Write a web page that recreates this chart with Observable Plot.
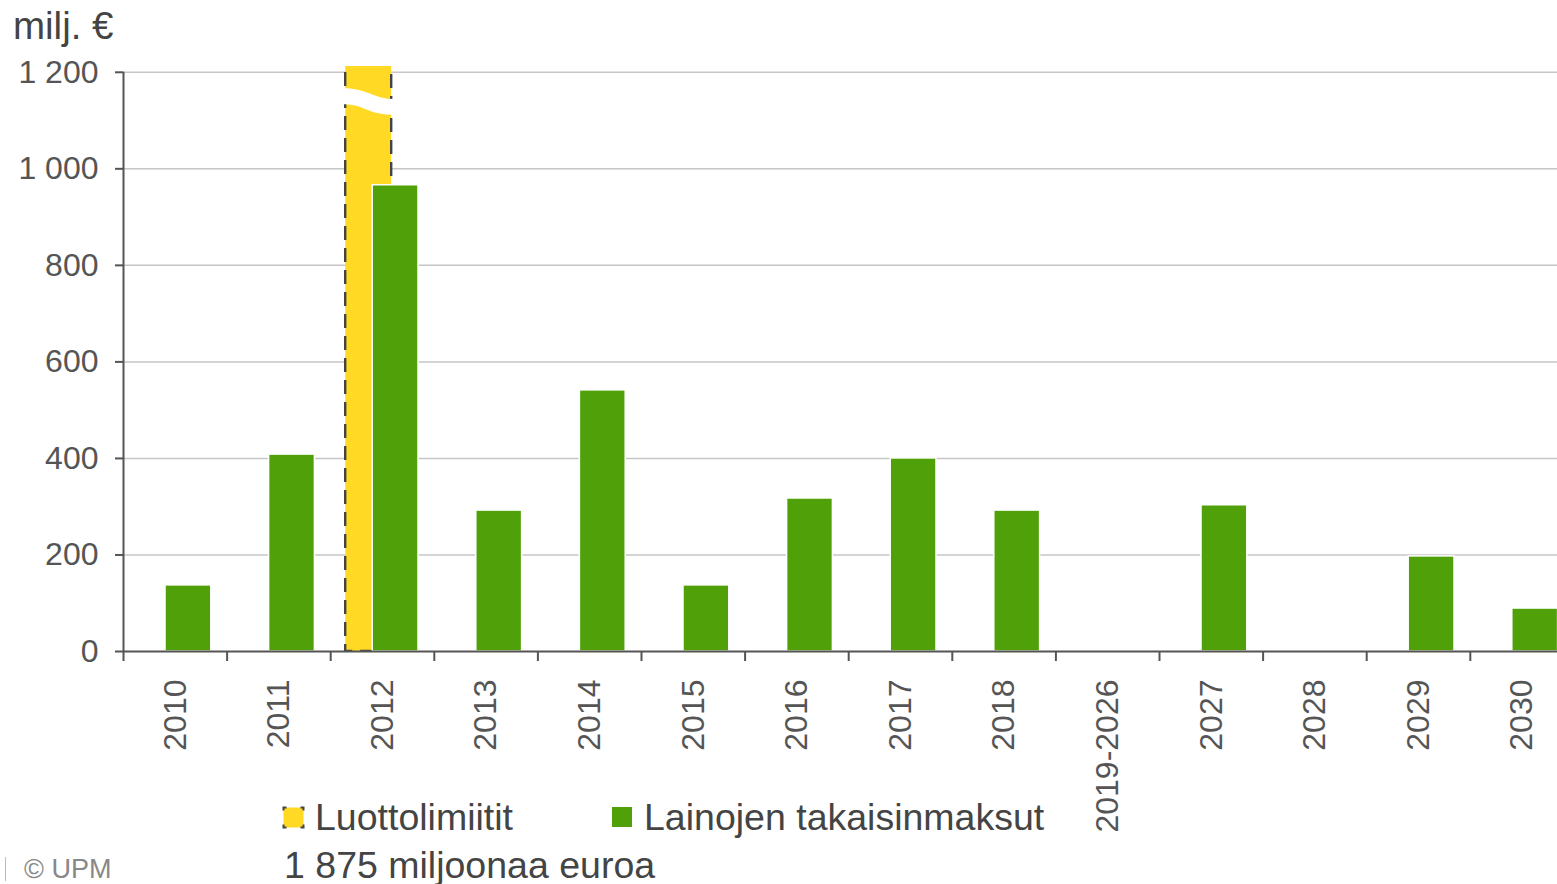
<!DOCTYPE html>
<html>
<head>
<meta charset="utf-8">
<script src="https://cdn.jsdelivr.net/npm/d3@7"></script>
<script src="https://cdn.jsdelivr.net/npm/@observablehq/plot@0.6"></script>
<style>
  body { margin: 0; background: #fff; font-family: "Liberation Sans", Arial, sans-serif; }
  #wrap { position: relative; width: 1557px; height: 884px; overflow: hidden; background: #fff; }
  #chart { position: absolute; left: 0; top: 0; }
  .t { position: absolute; white-space: nowrap; line-height: 1; color: #444; }
</style>
</head>
<body>
<div id="wrap">
  <div id="chart"></div>
  <div class="t" id="title" style="left:13px;top:7px;font-size:38.5px;"></div>
  <svg style="position:absolute;left:282px;top:806px;" width="23" height="23">
    <rect x="1.5" y="1.5" width="20" height="20" fill="#FFD924" stroke="#444" stroke-width="2" stroke-dasharray="6 14" stroke-dashoffset="3"></rect>
  </svg>
  <div class="t" id="lg1" style="left:315px;top:798.5px;font-size:37.5px;"></div>
  <div style="position:absolute;left:612px;top:807px;width:20px;height:20px;background:#50A00A;"></div>
  <div class="t" id="lg2" style="left:644px;top:798.5px;font-size:37.5px;"></div>
  <div class="t" id="note" style="left:284px;top:846.5px;font-size:37.5px;"></div>
  <div style="position:absolute;left:5px;top:857px;width:1px;height:24px;background:#bbb;"></div>
  <div class="t" id="credit" style="left:24px;top:856px;font-size:27px;color:#888;"></div>
</div>
<script>
// ---- data ----
const categories = ["2010", "2011", "2012", "2013", "2014", "2015", "2016", "2017", "2018", "2019-2026", "2027", "2028", "2029", "2030"];
const repayments = [137, 408, 966, 292, 541, 137, 317, 400, 292, 0, 303, 0, 197, 89];
const creditLineCategory = "2012";
const creditLineValue = 1875;
const yTicks = [0, 200, 400, 600, 800, 1000, 1200];
const seriesNames = ["Luottolimiitit", "Lainojen takaisinmaksut"];
const creditLineNote = "1 875 miljoonaa euroa";
const axisBreak = [1150, 1127];
const titleText = "milj. €";
const creditText = "© UPM";

document.getElementById("title").textContent = titleText;
document.getElementById("lg1").textContent = seriesNames[0];
document.getElementById("lg2").textContent = seriesNames[1];
document.getElementById("note").textContent = creditLineNote;
document.getElementById("credit").textContent = creditText;

const repayRows = categories.map((c, i) => ({category: c, value: repayments[i]})).filter(d => d.value > 0);
const creditRows = [{category: creditLineCategory, value: creditLineValue}];

const xLeft = 123, xRight = 1573.4;
const bw = (xRight - xLeft) / categories.length;
const GREEN = "#50A00A", YELLOW = "#FFD924", AXIS = "#555";

function axisBreakMark(index, scales, values, dimensions, context) {
  const x0 = scales.x(creditLineCategory);
  const b = scales.x.bandwidth();
  const xl = x0 + 15 - 4, xr = x0 + b - 42.6 + 4;
  const yl = scales.y(axisBreak[0]), yr = scales.y(axisBreak[1]);
  const xm = (xl + xr) / 2;
  const p = document.createElementNS("http://www.w3.org/2000/svg", "path");
  p.setAttribute("d", `M${xl},${yl} C${xm},${yl} ${xm},${yr} ${xr},${yr}`);
  p.setAttribute("fill", "none");
  p.setAttribute("stroke", "#fff");
  p.setAttribute("stroke-width", "16");
  return p;
}

const fmt = d => d3.format(",")(d).replace(/,/g, " ");

const chart = Plot.plot({
  width: 1557,
  height: 840,
  marginLeft: 123,
  marginRight: 0,
  marginTop: 66,
  marginBottom: 189,
  style: {fontFamily: "'Liberation Sans', Arial, sans-serif", fontSize: "32px", color: AXIS, background: "transparent", overflow: "hidden"},
  x: {type: "band", domain: categories, range: [xLeft, xRight], padding: 0, round: false, label: null},
  y: {domain: [0, 1212], label: null},
  marks: [
    Plot.gridY(yTicks.filter(d => d > 0), {stroke: "#c6c6c6", strokeOpacity: 1, strokeWidth: 1.5}),
    Plot.barY(creditRows, {x: "category", y: "value", fill: YELLOW, stroke: "#444", strokeWidth: 2.4, strokeDasharray: "14 8", insetLeft: 15, insetRight: 42.6, clip: true}),
    Plot.barY(repayRows, {x: "category", y: "value", fill: GREEN, stroke: "#fff", strokeWidth: 1.5, insetLeft: 42, insetRight: 15.8}),
    axisBreakMark,
    Plot.ruleY([0], {stroke: AXIS, strokeWidth: 2}),
    Plot.ruleX([categories[0]], {x: d => d, dx: -bw / 2, y1: 1200, y2: 0, insetBottom: -10, stroke: AXIS, strokeWidth: 2}),
    Plot.ruleX(categories.slice(1), {x: d => d, dx: -bw / 2, y1: 0, y2: 0, insetBottom: -10, stroke: AXIS, strokeWidth: 2}),
    Plot.axisY({ticks: yTicks, tickSize: 8, tickPadding: 17, tickFormat: fmt, fontSize: 32, strokeWidth: 2, label: null}),
    Plot.axisX({tickRotate: -90, tickSize: 0, tickPadding: 28, fontSize: 32, label: null})
  ]
});
document.getElementById("chart").appendChild(chart);
</script>
</body>
</html>
